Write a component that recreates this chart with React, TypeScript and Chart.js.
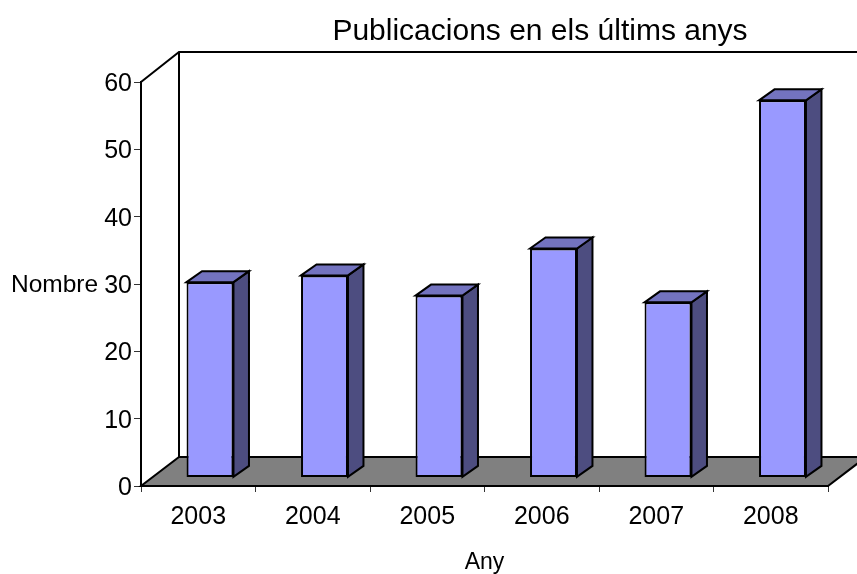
import React, { useEffect, useRef } from "react";
import { Chart, registerables } from "chart.js";

Chart.register(...registerables);

const years = ["2003", "2004", "2005", "2006", "2007", "2008"];
const publications = [29, 30, 27, 34, 26, 56];
const titleText = "Publicacions en els últims anys";
const xTitle = "Any";
const yTitle = "Nombre";

const FONT = "'Liberation Sans', Arial, sans-serif";
const WALL_DX = 38;
const WALL_DY = -30;
const BAR_SHIFT_X = 11.75;
const BAR_SHIFT_Y = -8.6;
const BAR_DX = 15.5;
const BAR_DY = -11;

function poly(ctx: CanvasRenderingContext2D, pts: number[][], fill: string | null, lw = 2) {
  ctx.beginPath();
  pts.forEach((p, i) => (i ? ctx.lineTo(p[0], p[1]) : ctx.moveTo(p[0], p[1])));
  ctx.closePath();
  if (fill) {
    ctx.fillStyle = fill;
    ctx.fill();
  }
  ctx.lineWidth = lw;
  ctx.strokeStyle = "#000";
  ctx.lineJoin = "miter";
  ctx.stroke();
}

const box3d = {
  id: "box3d",
  afterLayout(chart: any) {
    const t = chart.titleBlock;
    if (t) {
      t.left = 223;
      t.right = 857;
    }
  },
  beforeDatasetsDraw(chart: any) {
    const { ctx, chartArea: a } = chart;
    const { left: l, right: r, top, bottom: b } = a;
    ctx.save();
    ctx.beginPath();
    ctx.moveTo(l, top);
    ctx.lineTo(l + WALL_DX, top + WALL_DY);
    ctx.lineTo(857 + 20, top + WALL_DY);
    ctx.moveTo(l + WALL_DX, top + WALL_DY);
    ctx.lineTo(l + WALL_DX, b + WALL_DY + 1);
    ctx.lineWidth = 2;
    ctx.strokeStyle = "#000";
    ctx.stroke();
    poly(
      ctx,
      [
        [l, b],
        [r, b],
        [r + WALL_DX, b + WALL_DY + 1],
        [l + WALL_DX, b + WALL_DY + 1],
      ],
      "#808080"
    );
    ctx.fillStyle = "#000";
    ctx.font = `24.5px ${FONT}`;
    ctx.textAlign = "left";
    ctx.textBaseline = "middle";
    ctx.fillText(yTitle, 11, 285);
    ctx.restore();
    ctx.save();
    ctx.translate(BAR_SHIFT_X, BAR_SHIFT_Y);
  },
  afterDatasetsDraw(chart: any) {
    const { ctx } = chart;
    chart.getDatasetMeta(0).data.forEach((bar: any) => {
      const hw = bar.width / 2;
      const x0 = bar.x - hw;
      const x1 = bar.x + hw;
      poly(
        ctx,
        [
          [x1, bar.y],
          [x1 + BAR_DX, bar.y + BAR_DY],
          [x1 + BAR_DX, bar.base + BAR_DY],
          [x1, bar.base],
        ],
        "#4D4D80"
      );
      poly(
        ctx,
        [
          [x0, bar.y],
          [x0 + BAR_DX, bar.y + BAR_DY],
          [x1 + BAR_DX, bar.y + BAR_DY],
          [x1, bar.y],
        ],
        "#7373BF"
      );
    });
    ctx.restore();
  },
};

export default function App() {
  const ref = useRef<HTMLCanvasElement>(null);
  useEffect(() => {
    const chart = new Chart(ref.current as HTMLCanvasElement, {
      type: "bar",
      data: {
        labels: years,
        datasets: [
          {
            label: "Publicacions",
            data: publications,
            backgroundColor: "#9999FF",
            borderColor: "#000",
            borderWidth: 2,
            borderSkipped: false,
            barPercentage: 0.41,
            categoryPercentage: 1,
            clip: false,
          } as any,
        ],
      },
      options: {
        responsive: false,
        animation: false,
        layout: { padding: { left: 0, right: 29, top: 0, bottom: 0 } },
        plugins: {
          legend: { display: false },
          tooltip: { enabled: false },
          title: {
            display: true,
            text: titleText,
            color: "#000",
            font: { family: FONT, size: 30, weight: "normal" },
            padding: { top: 14, bottom: 32 },
          },
        },
        scales: {
          x: {
            afterFit: (s: any) => {
              s.height = 88;
            },
            border: { color: "#000", width: 2 },
            grid: { drawOnChartArea: false, drawTicks: true, tickLength: 6, tickColor: "#333", tickWidth: 1 },
            ticks: { color: "#000", font: { family: FONT, size: 25 }, padding: 10, maxRotation: 0 },
            title: {
              display: true,
              text: xTitle,
              color: "#000",
              font: { family: FONT, size: 23 },
              padding: { top: 0, bottom: -2 },
            },
          },
          y: {
            min: 0,
            max: 60,
            afterFit: (s: any) => {
              s.width = 141;
              if (!s.__shifted) {
                s.__shifted = true;
                const orig = s._computeLabelItems.bind(s);
                s._computeLabelItems = (area: any) =>
                  orig(area).map((it: any) => ({
                    ...it,
                    options: {
                      ...it.options,
                      translation: [it.options.translation[0], it.options.translation[1] + 2],
                    },
                  }));
              }
            },
            border: { color: "#000", width: 2 },
            grid: { drawOnChartArea: false, drawTicks: true, tickLength: 7, tickColor: "#333", tickWidth: 1 },
            ticks: { stepSize: 10, color: "#000", font: { family: FONT, size: 25 }, padding: 2 },
          },
        },
      } as any,
      plugins: [box3d],
    });
    return () => chart.destroy();
  }, []);
  return (
    <canvas
      ref={ref}
      width={857}
      height={574}
      style={{ position: "absolute", left: 0, top: 0, display: "block" }}
    />
  );
}
